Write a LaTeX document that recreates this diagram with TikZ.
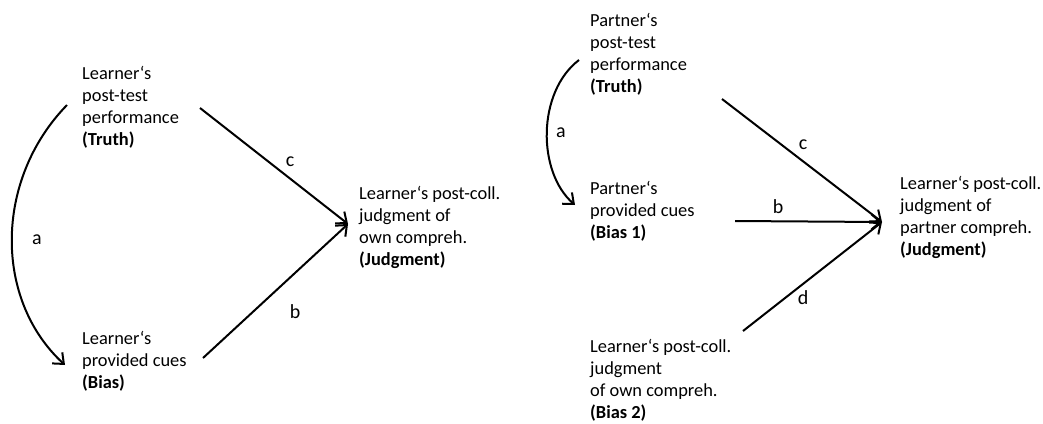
\documentclass[tikz,border=0pt]{standalone}
\usepackage{fontspec}
\setmainfont{Carlito}
\usetikzlibrary{arrows.meta}
\tikzset{
  lbl/.style={anchor=base west, align=left, inner sep=0pt, font=\fontsize{18.4}{21.7}\selectfont},
  pathlbl/.style={inner sep=0pt, font=\fontsize{20}{22}\selectfont},
  link/.style={line width=2pt, -{Straight Barb[length=9pt,width=15pt,line width=2pt]}},
}
\begin{document}
\begin{tikzpicture}[x=1pt,y=-1pt]
\useasboundingbox (0,0) rectangle (1043,423);

% ---- left model: learner's own comprehension ----
% (nodes are placed by the baseline of their last line)
\node[lbl] (ltruth) at (82,145) {Learner‘s\\post-test\\performance\\\textbf{(Truth)}};
\node[lbl] (lbias) at (82,388) {Learner‘s\\provided cues\\\textbf{(Bias)}};
\node[lbl] (ljudg) at (359,265) {Learner‘s post-coll.\\judgment of\\own compreh.\\\textbf{(Judgment)}};

\coordinate (ltruth-out) at (200,108);
\coordinate (lbias-out) at (203,358);
\coordinate (ljudg-in) at (348,224);
\coordinate (ltruth-a) at (67,105);
\coordinate (lbias-a) at (65,365);

\draw[link] (ltruth-out) -- (ljudg-in);
\draw[link] (lbias-out) -- (ljudg-in);
\draw[link] (ltruth-a) .. controls (-6,180) and (-6,300) .. (lbias-a);
\node[pathlbl] (la) at (37,240) {a};
\node[pathlbl] (lc) at (290,162) {c};
\node[pathlbl] (lb) at (295,312) {b};

% ---- right model: judgment of partner's comprehension ----
\node[lbl] (rtruth) at (590,92) {Partner‘s\\post-test\\performance\\\textbf{(Truth)}};
\node[lbl] (rbias1) at (590,238) {Partner‘s\\provided cues\\\textbf{(Bias 1)}};
\node[lbl] (rbias2) at (590,418) {Learner‘s post-coll.\\judgment\\of own compreh.\\\textbf{(Bias 2)}};
\node[lbl] (rjudg) at (900,255) {Learner‘s post-coll.\\judgment of\\partner compreh.\\\textbf{(Judgment)}};

\coordinate (rtruth-out) at (722,99);
\coordinate (rbias1-out) at (735,221);
\coordinate (rbias2-out) at (743,331);
\coordinate (rjudg-in) at (882,222);
\coordinate (rtruth-a) at (579,60);
\coordinate (rbias1-a) at (575,205);

\draw[link] (rtruth-out) -- (rjudg-in);
\draw[link] (rbias1-out) -- (rjudg-in);
\draw[link] (rbias2-out) -- (rjudg-in);
\draw[link] (rtruth-a) .. controls (537,92) and (537,172) .. (rbias1-a);

\node[pathlbl] (ra) at (561,133) {a};
\node[pathlbl] (rc) at (803,145) {c};
\node[pathlbl] (rb) at (778,207) {b};
\node[pathlbl] (rd) at (803,298) {d};
\end{tikzpicture}
\end{document}
